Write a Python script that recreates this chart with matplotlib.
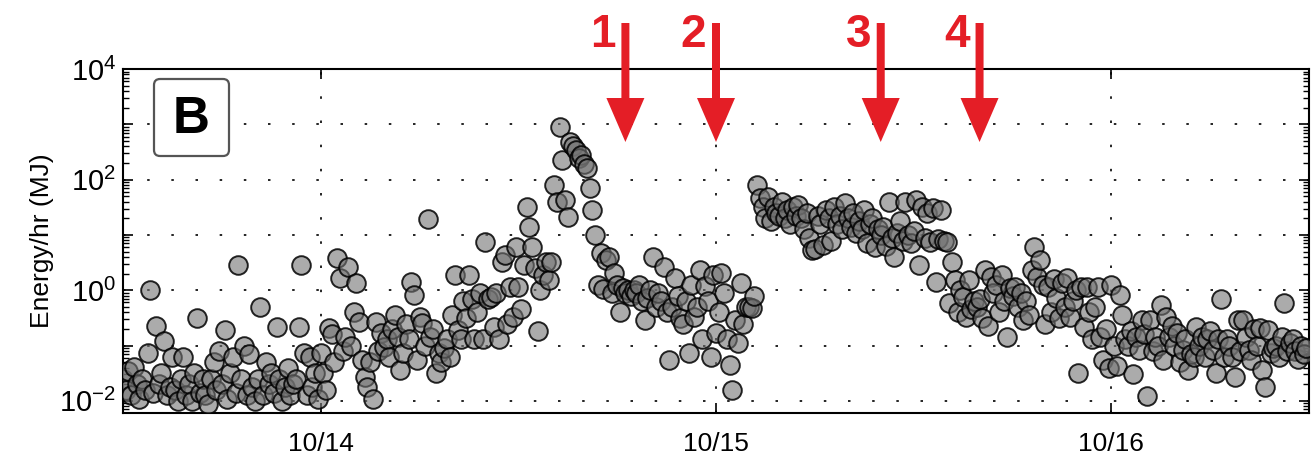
import numpy as np
import pandas as pd
import matplotlib
matplotlib.use("Agg")
import matplotlib.pyplot as plt
import matplotlib.dates as mdates
from matplotlib.patches import FancyBboxPatch, FancyArrow
from matplotlib.ticker import FixedLocator, FuncFormatter, LogLocator, NullFormatter

plt.rcParams['font.family'] = ['Liberation Sans', 'DejaVu Sans']
plt.rcParams['mathtext.fontset'] = 'custom'
plt.rcParams['mathtext.rm'] = 'Liberation Sans'
plt.rcParams['mathtext.it'] = 'Liberation Sans:italic'
plt.rcParams['mathtext.bf'] = 'Liberation Sans:bold'

# ---------------- data ----------------
start_time = "2012-10-13 12:00"
sample_interval = "10min"

# Energy per hour (MJ), one row per hour starting 10/13 12:00, six 10-min samples each
energy_mj_per_hr = [
    0.025, 0.016, 0.035, 0.013, 0.041, 0.020,   # 10/13 12h
    0.011, 0.025, 0.016, 0.074, 1.0, 0.014,
    0.23, 0.020, 0.032, 0.12, 0.013, 0.018,
    0.063, 0.016, 0.010, 0.025, 0.063, 0.013,
    0.020, 0.010, 0.032, 0.32, 0.014, 0.025,
    0.013, 0.0089, 0.025, 0.050, 0.016, 0.079,
    0.020, 0.19, 0.011, 0.032, 0.063, 0.014,
    2.9, 0.025, 0.10, 0.013, 0.071, 0.018,
    0.010, 0.025, 0.50, 0.013, 0.050, 0.020,
    0.032, 0.014, 0.22, 0.025, 0.010, 0.018,
    0.040, 0.013, 0.020, 0.025, 0.22, 2.9,
    0.074, 0.013, 0.063, 0.018, 0.032, 0.011,
    0.074, 0.032, 0.016, 0.21, 0.16, 0.050,    # 10/14 00h
    3.9, 1.66, 0.079, 0.14, 2.6, 0.10,
    0.40, 1.35, 0.27, 0.055, 0.027, 0.018,
    0.050, 0.011, 0.27, 0.079, 0.17, 0.095,
    0.13, 0.063, 0.20, 0.36, 0.14, 0.036,
    0.074, 0.25, 0.13, 1.4, 0.83, 0.055,
    0.33, 0.26, 0.10, 19.0, 0.14, 0.20,
    0.032, 0.074, 0.050, 0.091, 0.13, 0.063,
    0.36, 1.9, 0.19, 0.13, 0.63, 0.32,
    1.9, 0.68, 0.13, 0.40, 0.89, 0.13,
    7.6, 0.68, 0.76, 0.22, 0.89, 0.13,
    3.2, 4.4, 0.25, 1.15, 0.33, 6.0,
    1.15, 0.45, 2.9, 32.0, 14.0, 6.0,          # 10/14 12h
    2.5, 0.18, 1.0, 1.9, 3.2, 1.55,
    3.2, 79.0, 40.0, 910.0, 230.0, 43.0,
    21.0, 470.0, 400.0, 350.0, 250.0, 280.0,
    190.0, 160.0, 71.0, 28.0, 10.0, 1.26,
    4.8, 1.05, 3.5, 4.0, 0.89, 2.04,
    1.26, 0.40, 1.1, 0.89, 1.0, 0.79,
    1.0, 0.89, 1.26, 0.63, 0.29, 0.72,
    1.0, 4.0, 0.50, 0.89, 0.63, 2.6,
    0.40, 0.055, 0.50, 1.66, 0.79, 0.32,
    0.25, 0.63, 0.074, 1.26, 0.33, 0.50,
    2.3, 0.13, 1.2, 0.63, 0.063, 1.9,
    0.17, 0.40, 2.04, 0.89, 0.13, 0.045,       # 10/15 00h
    0.016, 0.29, 0.11, 1.35, 0.25, 0.50,
    0.50, 0.48, 0.79, 79.0, 47.0, 32.0,
    20.0, 49.0, 18.0, 32.0, 25.0, 22.0,
    40.0, 20.0, 28.0, 16.0, 32.0, 22.0,
    35.0, 20.0, 12.6, 25.0, 8.9, 5.4,
    5.6, 22.0, 16.0, 6.6, 28.0, 20.0,
    7.9, 32.0, 16.0, 22.0, 12.6, 38.0,
    20.0, 14.0, 25.0, 11.0, 18.0, 12.6,
    28.0, 7.1, 16.0, 20.0, 6.0, 12.6,
    10.0, 14.0, 6.3, 40.0, 8.9, 4.0,
    11.0, 18.0, 7.9, 40.0, 10.0, 7.1,
    12.0, 43.0, 2.9, 32.0, 8.9, 25.0,          # 10/15 12h
    7.6, 31.0, 1.4, 8.3, 28.0, 7.9,
    7.6, 0.59, 3.2, 1.55, 0.40, 1.0,
    0.76, 0.33, 1.55, 0.45, 0.63, 0.50,
    0.68, 0.32, 2.3, 0.23, 1.74, 0.89,
    1.26, 0.40, 1.9, 0.63, 0.14, 1.1,
    0.79, 1.15, 0.50, 0.89, 0.29, 0.63,
    0.35, 2.3, 6.0, 1.74, 3.5, 1.26,
    0.25, 1.15, 0.40, 1.6, 0.71, 0.32,
    1.35, 0.50, 1.66, 0.33, 0.63, 1.0,
    0.032, 1.15, 0.22, 1.15, 0.40, 0.13,
    0.50, 1.15, 0.14, 0.055, 0.20, 0.040,
    1.26, 0.10, 0.042, 0.83, 0.35, 0.13,       # 10/16 00h
    0.10, 0.18, 0.030, 0.14, 0.083, 0.29,
    0.16, 0.012, 0.29, 0.079, 0.14, 0.10,
    0.55, 0.055, 0.33, 0.14, 0.23, 0.10,
    0.17, 0.050, 0.083, 0.13, 0.036, 0.071,
    0.063, 0.22, 0.10, 0.14, 0.063, 0.13,
    0.18, 0.083, 0.032, 0.13, 0.69, 0.063,
    0.13, 0.10, 0.063, 0.027, 0.29, 0.079,
    0.29, 0.14, 0.083, 0.055, 0.20, 0.10,
    0.21, 0.036, 0.018, 0.19, 0.074, 0.089,
    0.10, 0.063, 0.14, 0.59, 0.079, 0.11,
    0.13, 0.079, 0.056, 0.10, 0.071, 0.089,
]

arrow_labels = ["1", "2", "3", "4"]
arrow_times = ["2012-10-14 18:30", "2012-10-15 00:00",
               "2012-10-15 10:00", "2012-10-15 16:00"]
panel_label = "B"
y_label = "Energy/hr (MJ)"
x_start = "2012-10-13 12:00"
x_end = "2012-10-16 12:00"

times = pd.date_range(start_time, periods=len(energy_mj_per_hr), freq=sample_interval)

# ---------------- figure ----------------
W, H = 1313, 454
fig = plt.figure(figsize=(W / 100, H / 100), dpi=100)
ax_l, ax_r, ax_b, ax_t = 123, 1309, 413, 69
ax = fig.add_axes([ax_l / W, 1 - ax_b / H, (ax_r - ax_l) / W, (ax_b - ax_t) / H])

ax.scatter(times, energy_mj_per_hr, s=180,
           facecolors=(0.45, 0.45, 0.45, 0.6),
           edgecolors=(0, 0, 0, 0.85), linewidths=1.4, zorder=3)

ax.set_yscale('log')
ax.set_ylim(10 ** -2.22, 1e4)
ax.set_xlim(pd.Timestamp(x_start), pd.Timestamp(x_end))

decades = [10.0 ** k for k in range(-2, 5)]
ax.yaxis.set_major_locator(FixedLocator(decades))

def yfmt(v, pos):
    k = int(round(np.log10(v)))
    return r'$10^{%d}$' % k if k % 2 == 0 else ''

ax.yaxis.set_major_formatter(FuncFormatter(yfmt))
ax.yaxis.set_minor_locator(LogLocator(base=10, subs=np.arange(2, 10), numticks=30))
ax.yaxis.set_minor_formatter(NullFormatter())

ax.xaxis.set_major_locator(mdates.DayLocator())
ax.xaxis.set_major_formatter(mdates.DateFormatter('%m/%d'))

ax.tick_params(which='both', direction='in', top=True, right=True)
ax.tick_params(which='major', length=7, width=1.2, color='black')
ax.tick_params(which='minor', length=4, width=1.0)
ax.tick_params(axis='x', pad=14, labelsize=19)
ax.tick_params(axis='y', pad=5, labelsize=21)

ax.grid(True, which='major', color='black', linestyle=(0, (1.5, 13)), linewidth=1.2)
for sp in ax.spines.values():
    sp.set_linewidth(1.5)

ax.set_ylabel(y_label, fontsize=19, labelpad=4)

# arrows with numbers
red = '#e41e26'
trans = ax.get_xaxis_transform()
days_per_px = 3.0 / (ax_r - ax_l)
ax_per_px = 1.0 / (ax_b - ax_t)
tail_y = (ax_b - 23) * ax_per_px
tip_y = (ax_b - 142) * ax_per_px
for lab, t in zip(arrow_labels, arrow_times):
    x = mdates.date2num(pd.Timestamp(t))
    arr = FancyArrow(x, tail_y, 0, tip_y - tail_y,
                     width=8 * days_per_px, head_width=38 * days_per_px,
                     head_length=44 * ax_per_px, length_includes_head=True,
                     transform=trans, color=red, clip_on=False, zorder=6, lw=0)
    ax.add_patch(arr)
    ax.annotate(lab, xy=(x, (ax_b - 47) * ax_per_px), xycoords=trans,
                xytext=(-7, 0), textcoords='offset points',
                ha='right', va='baseline', fontsize=33, fontweight='bold',
                color=red, annotation_clip=False)

# panel label box
bx0, bx1, by0, by1 = 154, 229, 79, 156
box = FancyBboxPatch((bx0 / W, 1 - by1 / H), (bx1 - bx0) / W, (by1 - by0) / H,
                     boxstyle='round,pad=0,rounding_size=0.0046',
                     mutation_aspect=W / H, transform=fig.transFigure,
                     facecolor='white', edgecolor='#555555', lw=1.6,
                     zorder=7, clip_on=False)
ax.add_patch(box)
fig.text((bx0 + bx1) / 2 / W, 1 - 133 / H, panel_label, ha='center', va='baseline',
         fontsize=37, fontweight='bold', zorder=8)

fig.savefig('out.png', dpi=100)
